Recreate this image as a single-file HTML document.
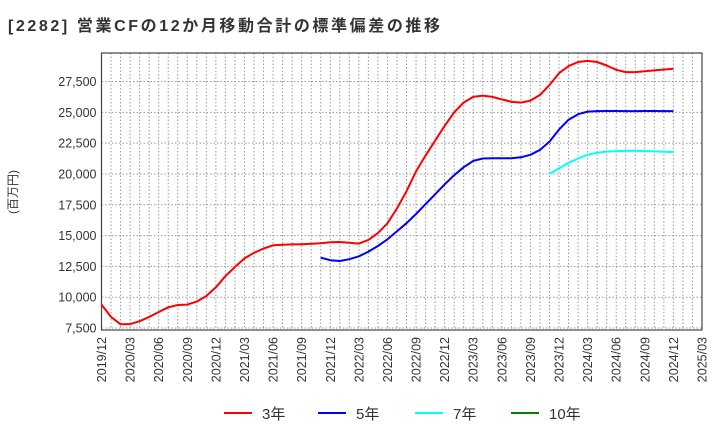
<!DOCTYPE html>
<html><head><meta charset="utf-8"><style>
body{margin:0;background:#fff;}
svg text{font-family:"Liberation Sans","Noto Sans CJK JP",sans-serif;}
</style></head><body>
<svg id="chart" width="720" height="440" xmlns="http://www.w3.org/2000/svg">
<text x="8" y="31" font-size="16" font-weight="bold" letter-spacing="2.6" fill="#333">[2282]  営業CFの12か月移動合計の標準偏差の推移</text>
<text transform="translate(17,192) rotate(-90)" text-anchor="middle" font-size="12" fill="#333">(百万円)</text>
<g id="grid"></g><g id="axes"></g><g id="series"></g><g id="legend"></g>
</svg>
<script>
const yTicks=[7500,10000,12500,15000,17500,20000,22500,25000,27500];
const xTickLabels=["2019/12","2020/03","2020/06","2020/09","2020/12","2021/03","2021/06","2021/09","2021/12","2022/03","2022/06","2022/09","2022/12","2023/03","2023/06","2023/09","2023/12","2024/03","2024/06","2024/09","2024/12","2025/03"];
const red3=[9400,8400,7800,7820,8050,8400,8800,9180,9370,9400,9640,10100,10800,11700,12450,13150,13600,13940,14210,14250,14280,14300,14330,14380,14460,14480,14420,14350,14650,15200,16000,17200,18600,20200,21500,22700,23900,25000,25800,26250,26360,26250,26050,25850,25790,25950,26410,27220,28170,28750,29080,29170,29080,28800,28450,28260,28260,28330,28400,28470,28520];
const blue5Start=23;
const blue5=[13210,13000,12940,13080,13320,13700,14150,14700,15350,16000,16750,17550,18350,19150,19900,20550,21060,21250,21280,21270,21270,21350,21550,21950,22620,23600,24400,24850,25060,25100,25110,25110,25100,25100,25110,25110,25100,25100];
const cyan7Start=47;
const cyan7=[20000,20450,20900,21250,21550,21720,21810,21850,21870,21870,21860,21830,21800,21780];
const green10Start=0;
const green10=[];
const legendLabels=["3年","5年","7年","10年"];
const legendColors=["#ff0000","#0000ff","#00ffff","#008000"];

const L=101.5,R=702,T=53,B=330,months=63;
const xs=m=>L+(R-L)*m/months;
const ys=v=>328-(v-7500)*(328-81.5)/20000;
const NS="http://www.w3.org/2000/svg";
function mk(tag,attrs,parent){const e=document.createElementNS(NS,tag);for(const k in attrs)e.setAttribute(k,attrs[k]);parent.appendChild(e);return e;}
const grid=document.getElementById('grid'),axes=document.getElementById('axes'),series=document.getElementById('series'),legend=document.getElementById('legend');
for(let m=1;m<months;m++){const l=mk('line',{x1:xs(m),x2:xs(m),y1:T,y2:B,stroke:'#999','stroke-dasharray':'1.5,2','stroke-width':1},grid);

}
yTicks.forEach(v=>{const l=mk('line',{x1:L,x2:R,y1:ys(v),y2:ys(v),stroke:'#999','stroke-dasharray':'1.5,2','stroke-width':1},grid);


const t=mk('text',{x:L-5,y:ys(v)+4.5,'text-anchor':'end','font-size':12.5,fill:'#333'},axes);t.textContent=v.toLocaleString('en-US');

});
xTickLabels.forEach((s,i)=>{const x=xs(i*3);const t=mk('text',{transform:`translate(${x+4.5},337) rotate(-90)`,'text-anchor':'end','font-size':12.5,fill:'#333'},axes);t.textContent=s;

});
const fr=mk('rect',{x:L,y:T,width:R-L,height:B-T,fill:'none',stroke:'#444','stroke-width':1.2},axes);


function line(arr,start,color,name){if(!arr.length)return;const d=arr.map((v,i)=>(i?'L':'M')+xs(start+i).toFixed(1)+','+ys(v).toFixed(1)).join('');
const p=mk('path',{d:d,fill:'none',stroke:color,'stroke-width':2,'stroke-linejoin':'round'},series);

}
line(red3,0,'#ff0000','series-3yr');
line(blue5,blue5Start,'#0000ff','series-5yr');
line(cyan7,cyan7Start,'#00ffff','series-7yr');
line(green10,green10Start,'#008000','series-10yr');
const lx=[224,318,415,511];
legendLabels.forEach((s,i)=>{const g=mk('g',{},legend);


mk('line',{x1:lx[i],x2:lx[i]+28,y1:413,y2:413,stroke:legendColors[i],'stroke-width':2},g);
const t=mk('text',{x:lx[i]+38,y:419,'font-size':15,fill:'#333'},g);t.textContent=s;});
</script>
</body></html>
